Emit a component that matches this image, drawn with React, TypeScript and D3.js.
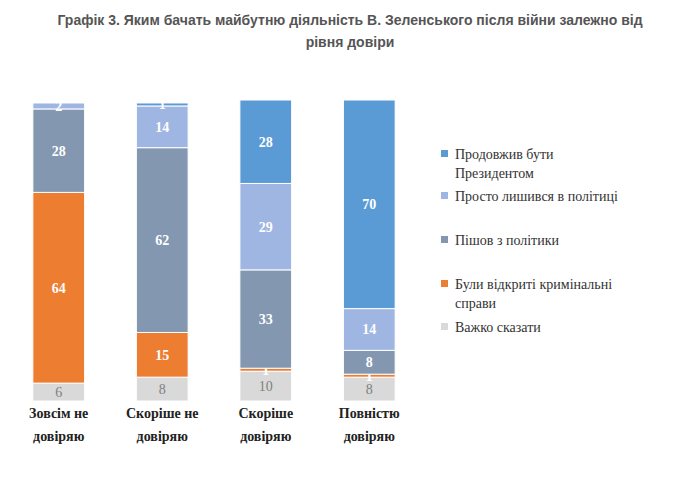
import React from "react";
import * as d3 from "d3";

const categories = [["Зовсім не", "довіряю"], ["Скоріше не", "довіряю"], ["Скоріше", "довіряю"], ["Повністю", "довіряю"]];
const seriesNames = ["Важко сказати", "Були відкриті кримінальні справи", "Пішов з політики", "Просто лишився в політиці", "Продовжив бути Президентом"];
const seriesColors = ["#d9d9d9", "#ed7d31", "#8497b0", "#9fb6e3", "#5b9bd5"];
const values = [
  [6, 64, 28, 2, 0],
  [8, 15, 62, 14, 1],
  [10, 1, 33, 29, 28],
  [8, 1, 8, 14, 70],
];
const legendLines = [["Продовжив бути", "Президентом"], ["Просто лишився в політиці"], ["Пішов з політики"], ["Були відкриті кримінальні", "справи"], ["Важко сказати"]];
const legendOrder = [4, 3, 2, 1, 0];

export default function App() {
  const x = d3.scaleBand().domain(d3.range(4).map(String)).range([8, 420]).paddingInner(0.98 - 0.48).paddingOuter(0.24);
  const y = d3.scaleLinear().domain([0, 101]).range([401, 100]);
  const legendY = [155, 197, 241, 285, 328];
  return (
    <svg width={680} height={479} style={{ position: "absolute", left: 0, top: 0, background: "#fff" }}>
      <text x={350} y={25} textAnchor="middle" fontFamily="Liberation Sans, Arial" fontWeight="bold" fontSize={14} fill="#555">
        Графік 3. Яким бачать майбутню діяльність В. Зеленського після війни залежно від
      </text>
      <text x={350} y={47} textAnchor="middle" fontFamily="Liberation Sans, Arial" fontWeight="bold" fontSize={14} fill="#555">
        рівня довіри
      </text>
      {values.map((row, i) => {
        let acc = 0;
        const bx = x(String(i))!;
        return (
          <g key={i}>
            {row.map((v, s) => {
              const y0 = acc;
              acc += v;
              if (v === 0) return null;
              const top = y(acc), bot = y(y0);
              return (
                <g key={s}>
                  <rect x={bx} y={top} width={x.bandwidth()} height={bot - top} fill={seriesColors[s]} stroke="#fff" strokeWidth={1} />
                  <text x={bx + x.bandwidth() / 2} y={(top + bot) / 2 + 5} textAnchor="middle" fontFamily="Liberation Serif, Times New Roman" fontSize={14}
                    fontWeight={s === 0 ? "normal" : "bold"} fill={s === 0 ? "#7f7f7f" : "#fff"}>{v}</text>
                </g>
              );
            })}
            {categories[i].map((l, k) => (
              <text key={k} x={bx + x.bandwidth() / 2} y={418 + k * 23} textAnchor="middle" fontFamily="Liberation Serif, Times New Roman" fontWeight="bold" fontSize={14} fill="#222">{l}</text>
            ))}
          </g>
        );
      })}
      {legendOrder.map((s, k) => (
        <g key={s}>
          <rect x={441} y={legendY[k] - 5} width={7} height={7} fill={seriesColors[s]} />
          {legendLines[k].map((l, j) => (
            <text key={j} x={455} y={legendY[k] + 4 + j * 19} fontFamily="Liberation Serif, Times New Roman" fontSize={14} fill="#333">{l}</text>
          ))}
        </g>
      ))}
    </svg>
  );
}
